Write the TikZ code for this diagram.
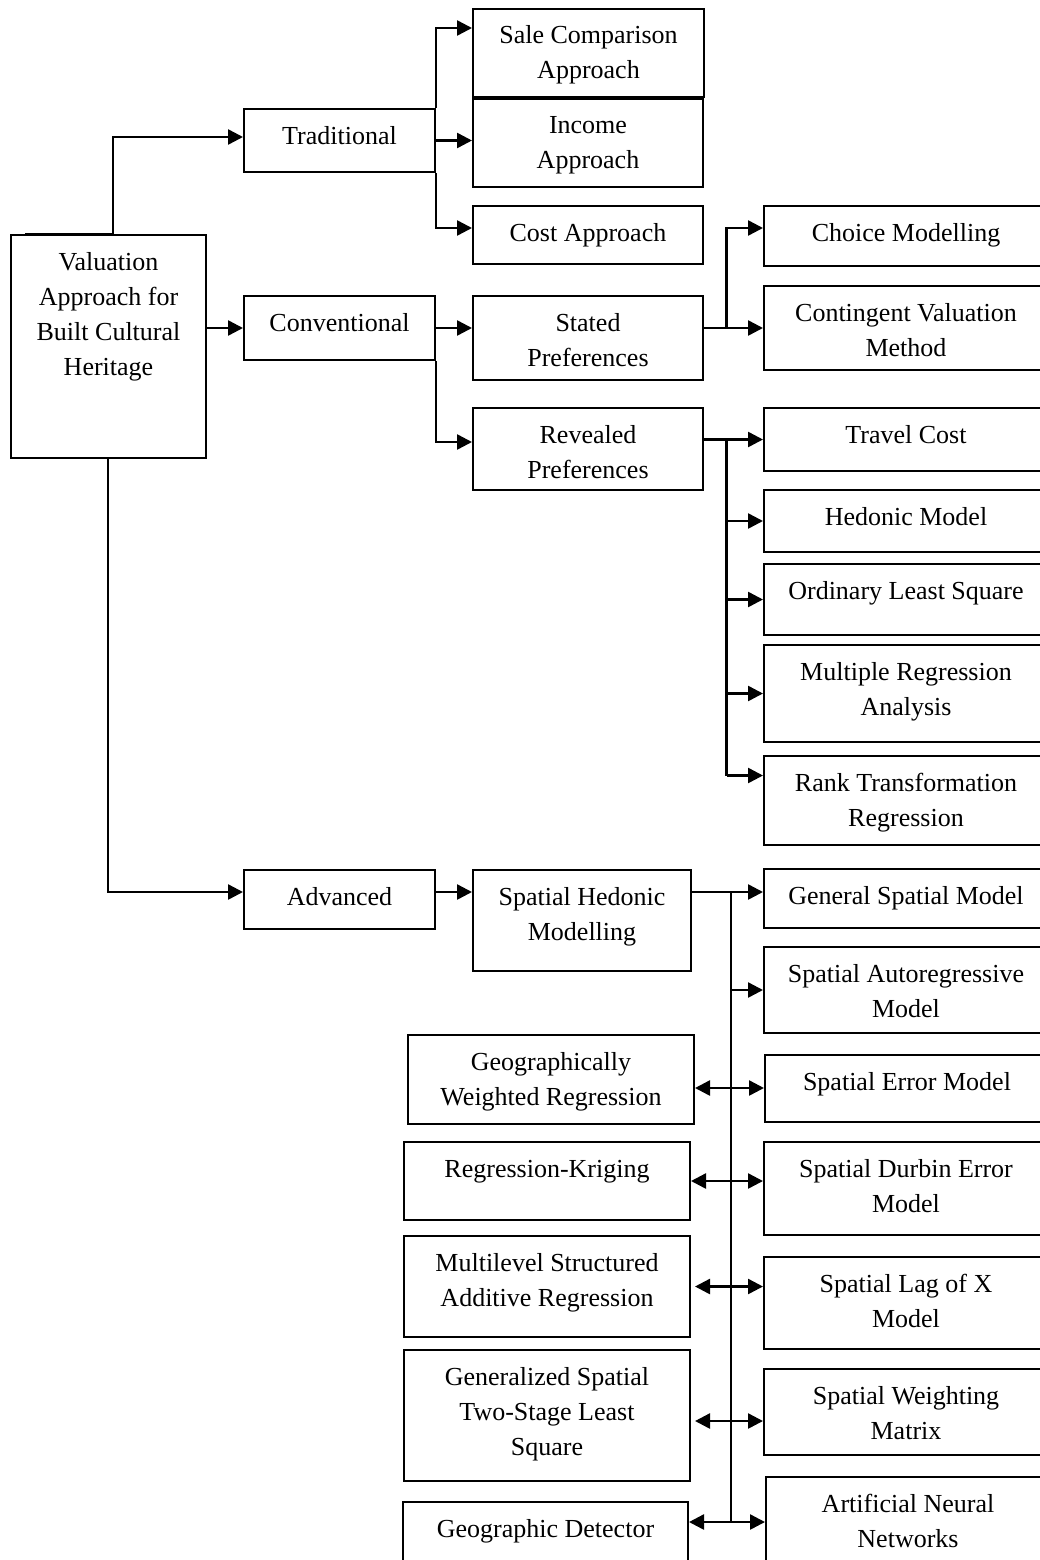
\documentclass[tikz,border=0pt]{standalone}
\usepackage{fontspec}
\setmainfont{Liberation Serif}
\usetikzlibrary{arrows.meta}
\newcommand\bxt[3]{\parbox[t][#2pt][t]{#1pt}{\centering\rule{0pt}{35pt}#3}}
\tikzset{
  box/.style={draw, line width=2pt, inner sep=0pt, anchor=north west, font=\fontsize{26}{35}\selectfont},
  link/.style={line width=2.5pt},
  conn/.style={line width=2.5pt, -{Triangle[length=15pt,width=15pt]}},
  dbl/.style={line width=2.5pt, {Triangle[length=15pt,width=15pt]}-{Triangle[length=15pt,width=15pt]}}
}
\begin{document}
\begin{tikzpicture}[x=1pt,y=-1pt]
\clip (0,0) rectangle (1040,1560);
\fill[white] (0,0) rectangle (1040,1560);
% boxes
\node[box] (root) at (10,234) {\bxt{195}{223}{Valuation\\Approach for\\Built Cultural\\Heritage}};
\node[box] (trad) at (243,108) {\bxt{191}{63}{Traditional}};
\node[box] (conv) at (243,295) {\bxt{191}{64}{Conventional}};
\node[box] (adv) at (243,869) {\bxt{191}{59}{Advanced}};
\node[box] (sale) at (472,8) {\bxt{231}{88}{Sale Comparison\\Approach}};
\node[box] (inc) at (472,98) {\bxt{230}{88}{Income\\Approach}};
\node[box] (cost) at (472,205) {\bxt{230}{58}{Cost Approach}};
\node[box] (stated) at (472,295) {\bxt{230}{84}{Stated\\Preferences}};
\node[box] (rev) at (472,407) {\bxt{230}{82}{Revealed\\Preferences}};
\node[box] (choice) at (763,205) {\bxt{284}{60}{Choice Modelling}};
\node[box] (cont) at (763,285) {\bxt{284}{84}{Contingent Valuation\\Method}};
\node[box] (travel) at (763,407) {\bxt{284}{63}{Travel Cost}};
\node[box] (hed) at (763,489) {\bxt{284}{62}{Hedonic Model}};
\node[box] (ols) at (763,563) {\bxt{284}{71}{Ordinary Least Square}};
\node[box] (mra) at (763,644) {\bxt{284}{97}{Multiple Regression\\Analysis}};
\node[box] (rtr) at (763,755) {\bxt{284}{89}{Rank Transformation\\Regression}};
\node[box] (shm) at (472,869) {\bxt{218}{101}{Spatial Hedonic\\Modelling}};
\node[box] (gsm) at (763,868) {\bxt{284}{59}{General Spatial Model}};
\node[box] (sar) at (763,946) {\bxt{284}{86}{Spatial Autoregressive\\Model}};
\node[box] (sem) at (764,1054) {\bxt{284}{67}{Spatial Error Model}};
\node[box] (sdem) at (763,1141) {\bxt{284}{93}{Spatial Durbin Error\\Model}};
\node[box] (slx) at (763,1256) {\bxt{284}{92}{Spatial Lag of X\\Model}};
\node[box] (swm) at (763,1368) {\bxt{284}{86}{Spatial Weighting\\Matrix}};
\node[box] (ann) at (765,1476) {\bxt{284}{100}{Artificial Neural\\Networks}};
\node[box] (gwr) at (407,1034) {\bxt{286}{89}{Geographically\\Weighted Regression}};
\node[box] (rk) at (403,1141) {\bxt{286}{78}{Regression-Kriging}};
\node[box] (msar) at (403,1235) {\bxt{286}{101}{Multilevel Structured\\Additive Regression}};
\node[box] (gs) at (403,1349) {\bxt{286}{131}{Generalized Spatial\\Two-Stage Least\\Square}};
\node[box] (gd) at (402,1501) {\bxt{285}{62}{Geographic Detector}};
% root connectors
\draw[conn] ([xshift=15pt]root.north west) -- ([xshift=103pt]root.north west) |- ([yshift=3.5pt]trad.west);
\draw[conn] (root.east |- conv.west) -- (conv.west);
\draw[conn] ([xshift=98pt]root.south west) |- ([yshift=7.5pt]adv.west);
% traditional
\draw[conn] (trad.north east) |- ([yshift=25pt]sale.west);
\draw[conn] (trad.east) -- (trad.east -| inc.west);
\draw[conn] (trad.south east) |- ([yshift=7pt]cost.west);
% conventional
\draw[conn] (conv.east) -- (conv.east -| stated.west);
\draw[conn] (conv.south east) |- ([yshift=7pt]rev.west);
% stated
\draw[conn] (stated.east |- cont.west) -- (cont.west);
\coordinate (jS) at ([xshift=22.5pt]stated.east |- cont.west);
\draw[conn] (jS) |- ([yshift=8pt]choice.west);
% revealed
\draw[conn] (rev.east |- travel.west) -- (travel.west);
\coordinate (jR) at ([xshift=22.5pt]rev.east |- travel.west);
\coordinate (rtrA) at ([yshift=25pt]rtr.west);
\draw[link] (jR) -- (jR |- rtrA);
\draw[conn] (jR |- hed.west) -- (hed.west);
\draw[conn] (jR |- ols.west) -- (ols.west);
\draw[conn] (jR |- mra.west) -- (mra.west);
\draw[conn] (jR |- rtrA) -- (rtrA);
% advanced
\draw[conn] ([yshift=7.5pt]adv.east) -- ([yshift=7.5pt]adv.east -| shm.west);
\coordinate (gA) at ([yshift=6.5pt]gsm.west);
\draw[conn] (shm.east |- gA) -- (gA);
\coordinate (jA) at ([xshift=39pt]shm.east |- gA);
\coordinate (gdA) at ([yshift=11pt]gd.east);
\draw[link] (jA) -- (jA |- gdA);
\draw[conn] (jA |- sar.west) -- (sar.west);
\coordinate (gwrA) at ([yshift=-8.5pt]gwr.east);
\draw[dbl] (gwrA) -- (gwrA -| sem.west);
\draw[dbl] (rk.east) -- (rk.east -| sdem.west);
\draw[dbl] ([xshift=4pt]msar.east) -- (msar.east -| slx.west);
\coordinate (gsA) at ([xshift=4pt,yshift=-5.5pt]gs.east);
\draw[dbl] (gsA) -- (gsA -| swm.west);
\draw[dbl] (gdA) -- (gdA -| ann.west);
\end{tikzpicture}
\end{document}
